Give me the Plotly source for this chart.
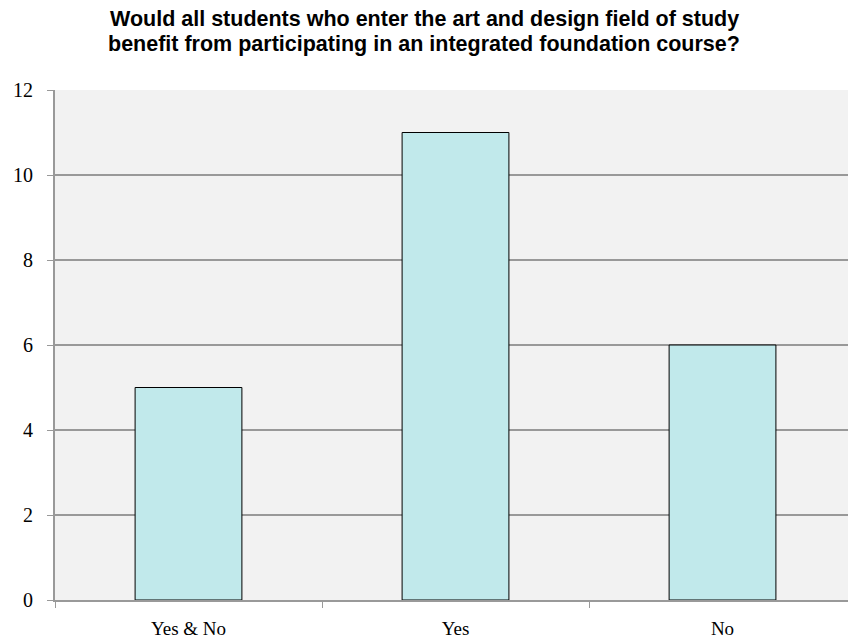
import plotly.graph_objects as go

categories = ["Yes & No", "Yes", "No"]
values = [5, 11, 6]
y_ticks = [0, 2, 4, 6, 8, 10, 12]
title_lines = [
    "Would all students who enter the art and design field of study",
    "benefit from participating in an integrated foundation course?",
]

fig = go.Figure()
fig.add_trace(go.Bar(
    x=categories, y=values, width=0.4,
    marker=dict(color="#c1e9eb", line=dict(color="#000000", width=1)),
))

fig.update_layout(
    width=848, height=639,
    margin=dict(l=55, r=0, t=90, b=39),
    paper_bgcolor="white", plot_bgcolor="#f2f2f2",
    showlegend=False,
)
for line, ypos in zip(title_lines, [1.1392, 1.0902]):
    fig.add_annotation(
        text="<b>" + line + "</b>", xref="paper", yref="paper",
        x=(424 - 55) / 793, y=ypos, xanchor="center", yanchor="middle",
        showarrow=False,
        font=dict(family="Liberation Sans, Arial", size=21.5, color="#000"),
    )
fig.update_xaxes(
    type="category", range=[-0.5, 2.47],
    showline=True, linecolor="#999999", linewidth=2,
    ticks="outside", tickson="boundaries", ticklen=6, tickcolor="#999999", tickwidth=1,
    showgrid=False, ticklabelstandoff=10,
    tickfont=dict(family="Liberation Serif, DejaVu Serif", size=19, color="#000"),
)
fig.update_yaxes(
    range=[0, 12], tickvals=y_ticks,
    showline=True, linecolor="#999999", linewidth=2,
    ticks="outside", ticklen=6, tickcolor="#999999", tickwidth=1,
    showgrid=True, gridcolor="#999999", gridwidth=2,
    zeroline=False, ticklabelstandoff=10,
    tickfont=dict(family="Liberation Serif, DejaVu Serif", size=20, color="#000"),
)

fig.write_html("out.html")
